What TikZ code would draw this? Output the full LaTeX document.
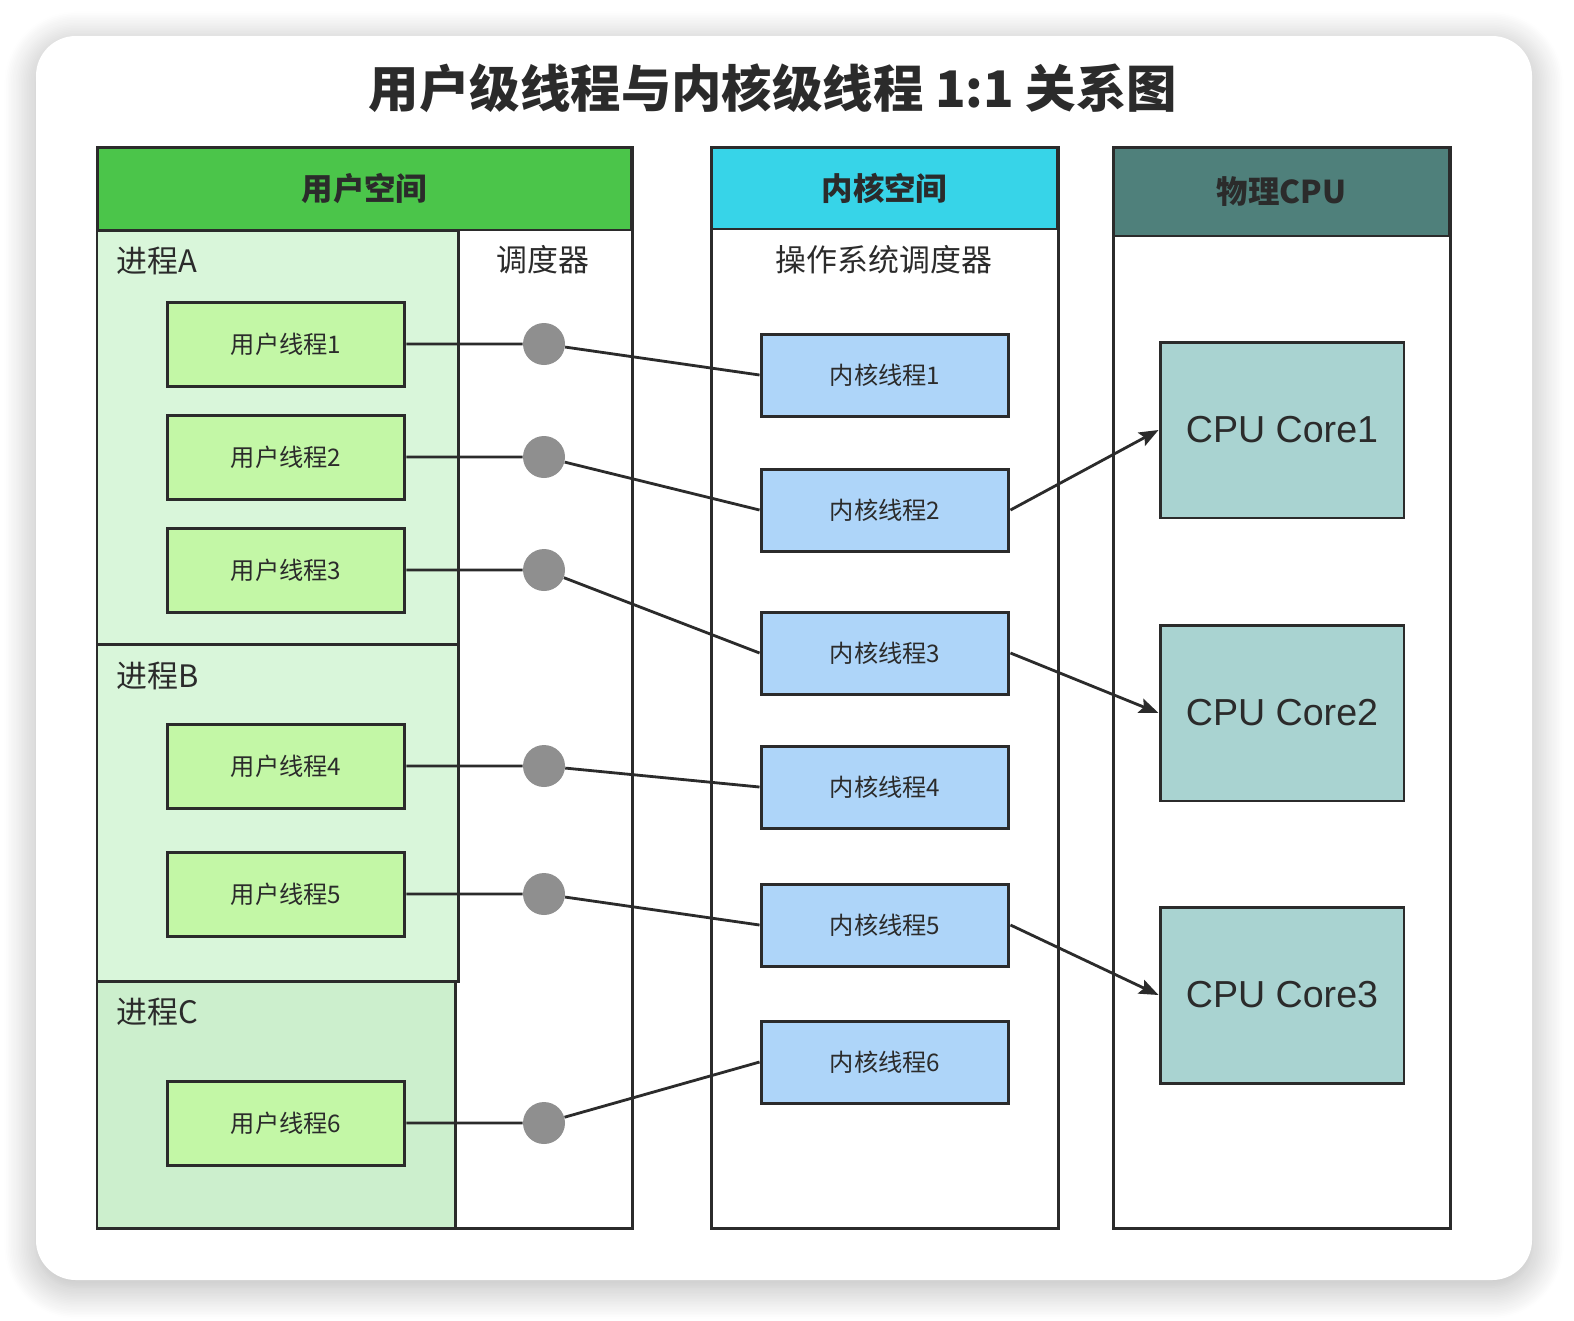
\documentclass[tikz,border=0pt]{standalone}
\usepackage{fontspec}
\setmainfont{Noto Sans CJK SC}
\newfontfamily\cpufont{Liberation Sans}
\usetikzlibrary{arrows.meta,shadows.blur}
\definecolor{linec}{HTML}{2B2B2B}
\definecolor{userhead}{HTML}{4BC54A}
\definecolor{procc}{HTML}{D9F6DA}
\definecolor{procdark}{HTML}{CCEFCD}
\definecolor{uthreadc}{HTML}{C3F7A6}
\definecolor{kernhead}{HTML}{37D4E8}
\definecolor{kthreadc}{HTML}{AED5F9}
\definecolor{cpuhead}{HTML}{4F807B}
\definecolor{corec}{HTML}{A9D3D1}
\definecolor{schedc}{HTML}{8F8F8F}
\tikzset{
  colbox/.style={draw=linec, line width=1.7pt, fill=white},
  headbox/.style={draw=linec, line width=1.7pt, text=linec,
    font=\fontsize{17.9}{20}\selectfont\bfseries},
  proc/.style={draw=linec, line width=1.7pt},
  label/.style={text=linec, font=\fontsize{17.6}{20}\selectfont},
  uthread/.style={draw=linec, line width=1.7pt, fill=uthreadc,
    minimum width=4.76cm, minimum height=1.68cm, text=linec,
    font=\fontsize{13.8}{16}\selectfont},
  kthread/.style={draw=linec, line width=1.7pt, fill=kthreadc,
    minimum width=4.96cm, minimum height=1.64cm, text=linec,
    font=\fontsize{13.8}{16}\selectfont},
  core/.style={draw=linec, line width=1.7pt, fill=corec,
    minimum width=4.88cm, minimum height=3.52cm, text=linec,
    font=\cpufont\fontsize{21.4}{24}\selectfont},
  sched/.style={circle, fill=schedc, minimum size=0.84cm, inner sep=0pt},
  link/.style={draw=linec, line width=1.6pt},
  dispatch/.style={link, -{Stealth[length=11pt,width=8.5pt,inset=2pt]}}
}
\begin{document}
\begin{tikzpicture}[x=0.02cm,y=-0.02cm]
  \useasboundingbox (0,0) rectangle (1574,1320);
  % card
  \fill[white, rounded corners=22.7pt,
    blur shadow={shadow xshift=0pt, shadow yshift=-4pt,
      shadow blur radius=18pt, shadow blur steps=20, shadow opacity=30}]
    (36,36) rectangle (1532,1280);
  \node[text=linec, font=\fontsize{28.7}{32}\selectfont\bfseries] (title)
    at (773,88) {用户级线程与内核级线程 1:1 关系图};

  % columns
  \draw[colbox] (97,147) rectangle (632,1228);
  \draw[colbox] (711,147) rectangle (1058,1228);
  \draw[colbox] (1113,147) rectangle (1450,1228);
  \node[headbox, fill=userhead, minimum width=10.7cm, minimum height=1.66cm]
    (userspace) at (364.5,188.5) {用户空间};
  \node[headbox, fill=kernhead, minimum width=6.94cm, minimum height=1.64cm]
    (kernspace) at (884.5,188) {内核空间};
  \node[headbox, fill=cpuhead, minimum width=6.74cm, minimum height=1.78cm]
    (cpuspace) at (1281.5,191.5) {物理CPU};

  % processes
  \draw[proc, fill=procc] (97,230) rectangle (458,644);
  \draw[proc, fill=procc] (97,644) rectangle (458,981);
  \draw[proc, fill=procdark] (97,981) rectangle (455,1228);
  \node[label, anchor=west] (procA) at (110,261) {进程A};
  \node[label, anchor=west] (procB) at (110,676) {进程B};
  \node[label, anchor=west] (procC) at (110,1012) {进程C};
  \node[label] (usched) at (543,260) {调度器};
  \node[label] (ksched) at (884,260) {操作系统调度器};

  % threads
  \foreach \i/\uy/\ky in {1/344/375, 2/457/510, 3/570/653,
                          4/766/787, 5/894/925, 6/1123/1062} {
    \node[uthread] (u\i) at (286,\uy) {用户线程\i};
    \node[sched] (s\i) at (544,\uy) {};
    \node[kthread] (k\i) at (885,\ky) {内核线程\i};
    \draw[link] (u\i.east) -- (s\i) -- (k\i.west);
  }

  % cores
  \node[core] (c1) at (1282,430) {CPU Core1};
  \node[core] (c2) at (1282,713) {CPU Core2};
  \node[core] (c3) at (1282,995) {CPU Core3};
  \draw[dispatch] (k2.east) -- (c1.west);
  \draw[dispatch] (k3.east) -- (c2.west);
  \draw[dispatch] (k5.east) -- (c3.west);
\end{tikzpicture}
\end{document}
